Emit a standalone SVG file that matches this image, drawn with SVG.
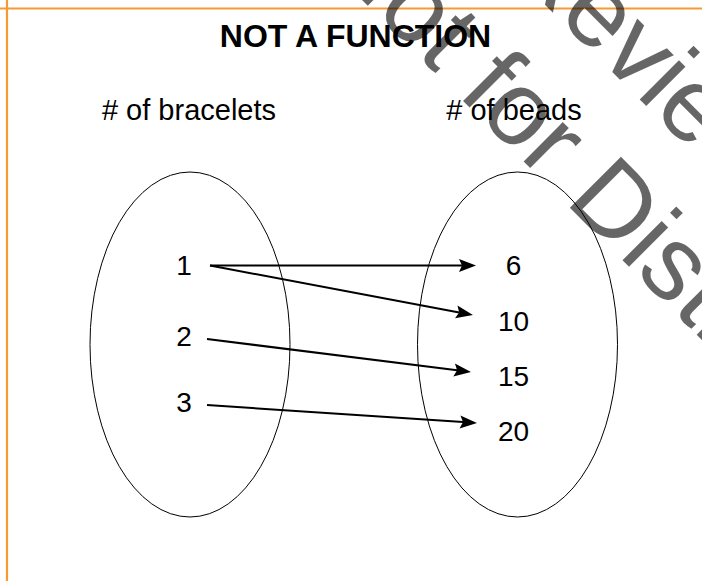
<svg xmlns="http://www.w3.org/2000/svg" width="702" height="581" viewBox="0 0 702 581">
  <style>
    .frame { stroke: #F59A34; stroke-width: 2.2; fill: none; }
    .set { fill: none; stroke: #000; stroke-width: 1; }
    .title { font-family: "Liberation Sans", Arial, sans-serif; font-weight: bold; font-size: 32px; fill: #000; }
    .head { font-family: "Liberation Sans", Arial, sans-serif; font-size: 29px; fill: #000; }
    .num { font-family: "Liberation Sans", Arial, sans-serif; font-size: 28px; fill: #000; text-anchor: middle; }
    .edge { stroke: #000; stroke-width: 2; fill: none; marker-end: url(#arrow); }
    .wm { font-family: "Liberation Sans", Arial, sans-serif; font-size: 105px; fill: #000; fill-opacity: 0.6; }
  </style>
  <defs>
    <marker id="arrow" markerUnits="userSpaceOnUse" markerWidth="24" markerHeight="16" viewBox="-4 -8 20 16" refX="0" refY="0" orient="auto">
      <path d="M14,0 L-3,-6.5 L0,0 L-3,6.5 Z" fill="#000"/>
    </marker>
  </defs>
  <rect x="0" y="0" width="702" height="581" fill="#fff"/>
  <g id="frame">
    <line class="frame" x1="0" y1="8.5" x2="702" y2="8.5"/>
    <line class="frame" x1="7" y1="0" x2="7" y2="581"/>
  </g>
  <g id="title">
    <text class="title" x="355.5" y="47" text-anchor="middle">NOT A FUNCTION</text>
  </g>
  <g id="domain">
    <ellipse class="set" cx="190" cy="344.5" rx="100" ry="172.5"/>
    <text class="head" x="189" y="120" text-anchor="middle"># of bracelets</text>
  </g>
  <g id="range">
    <ellipse class="set" cx="517.5" cy="344.5" rx="100" ry="172.5"/>
    <text class="head" x="514" y="120" text-anchor="middle"># of beads</text>
  </g>
  <g id="node-1"><text class="num" x="184" y="275">1</text></g>
  <g id="node-2"><text class="num" x="184" y="346">2</text></g>
  <g id="node-3"><text class="num" x="184" y="412">3</text></g>
  <g id="node-6"><text class="num" x="513.5" y="275">6</text></g>
  <g id="node-10"><text class="num" x="513.5" y="331">10</text></g>
  <g id="node-15"><text class="num" x="513.5" y="386">15</text></g>
  <g id="node-20"><text class="num" x="513.5" y="441">20</text></g>
  <g id="connectors">
    <line class="edge" x1="210" y1="265.5" x2="462" y2="265.5"/>
    <line class="edge" x1="210" y1="265.5" x2="459.2" y2="312.4"/>
    <line class="edge" x1="207" y1="339" x2="457.1" y2="370.3"/>
    <line class="edge" x1="207" y1="405" x2="463" y2="422.1"/>
  </g>
  <g id="watermark" transform="rotate(45)">
    <text class="wm" x="329" y="-382">Review</text>
    <text class="wm" x="197" y="-256">Not for Distribution</text>
  </g>
</svg>
